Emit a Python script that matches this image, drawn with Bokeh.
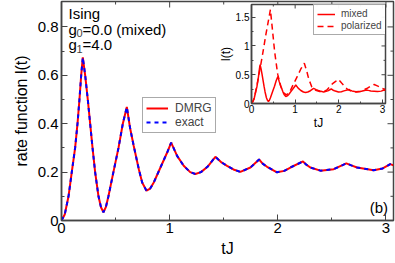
import math
from bokeh.plotting import figure
from bokeh.models import (Range1d, FixedTicker, CustomJSTickFormatter,
                          Legend, LegendItem, Label, ColumnDataSource)
from bokeh.layouts import column
from bokeh.embed import file_html
from bokeh.resources import INLINE

# ---- data ----
t_mixed = [0, 0.03, 0.065, 0.095, 0.126, 0.148, 0.166, 0.182, 0.197, 0.219, 0.243, 0.265,
           0.287, 0.311, 0.342, 0.365, 0.388, 0.41, 0.434, 0.48, 0.527, 0.567, 0.604, 0.635,
           0.668, 0.715, 0.746, 0.786, 0.82, 0.853, 0.915, 0.977, 1.014, 1.069, 1.13, 1.19,
           1.238, 1.29, 1.35, 1.423, 1.48, 1.531, 1.59, 1.654, 1.747, 1.827, 1.86, 1.901,
           1.993, 2.06, 2.117, 2.233, 2.26, 2.301, 2.394, 2.517, 2.634, 2.68, 2.733, 2.886,
           2.97, 3.04, 3.07]
l_mixed = [0, 0.025, 0.1, 0.2, 0.3, 0.4, 0.5, 0.6, 0.674, 0.6, 0.5, 0.4,
           0.3, 0.2, 0.1, 0.055, 0.034, 0.055, 0.1, 0.2, 0.3, 0.4, 0.469, 0.38,
           0.308, 0.212, 0.157, 0.123, 0.132, 0.157, 0.219, 0.281, 0.322, 0.267, 0.226, 0.2,
           0.192, 0.2, 0.222, 0.263, 0.24, 0.226, 0.211, 0.201, 0.219, 0.252, 0.235, 0.222,
           0.199, 0.205, 0.219, 0.244, 0.232, 0.219, 0.206, 0.212, 0.236, 0.228, 0.219, 0.208,
           0.215, 0.233, 0.228]

t_polarized = [0, 0.06, 0.13, 0.24, 0.33, 0.39, 0.433, 0.48, 0.53, 0.60, 0.67, 0.73, 0.8,
               0.87, 0.95, 1.05, 1.13, 1.21, 1.27, 1.31, 1.38, 1.47, 1.6, 1.72, 1.85, 1.92,
               1.99, 2.07, 2.14, 2.21, 2.3, 2.4, 2.5, 2.64, 2.73, 2.81, 2.87, 2.93, 3.0, 3.07]
l_polarized = [0, 0.08, 0.34, 0.79, 1.2, 1.45, 1.63, 1.28, 0.90, 0.51, 0.3, 0.19, 0.15,
               0.19, 0.32, 0.47, 0.6, 0.70, 0.55, 0.43, 0.29, 0.23, 0.2, 0.23, 0.34, 0.38,
               0.42, 0.35, 0.29, 0.24, 0.21, 0.2, 0.21, 0.26, 0.3, 0.33, 0.31, 0.29, 0.26, 0.24]

x_ticks = [0, 1, 2, 3]
x_minor = [0.5, 1.5, 2.5]
y_ticks_main = [0, 0.2, 0.4, 0.6, 0.8]
y_minor_main = [0.1, 0.3, 0.5, 0.7]
y_ticks_inset = [0, 0.5, 1, 1.5]
y_minor_inset = [0.25, 0.75, 1.25]

FONT = "Liberation Sans"
FRAME = "#444444"

src = ColumnDataSource(dict(t=t_mixed, l=l_mixed))
src_pol = ColumnDataSource(dict(t=t_polarized, l=l_polarized))


def style_axis(ax, ticks, minor, size, tick_len=6, minor_len=3):
    ax.ticker = FixedTicker(ticks=ticks, minor_ticks=minor)
    ax.formatter = CustomJSTickFormatter(code="return String(tick)")
    ax.major_tick_in = tick_len
    ax.major_tick_out = 0
    ax.minor_tick_in = minor_len
    ax.minor_tick_out = 0
    ax.axis_line_color = FRAME
    ax.axis_line_width = 1.5
    ax.major_tick_line_color = FRAME
    ax.minor_tick_line_color = FRAME
    ax.major_label_text_font = FONT
    ax.major_label_text_color = "black"
    ax.major_label_text_font_size = size
    ax.axis_label_text_font = FONT
    ax.axis_label_text_font_style = "normal"
    ax.axis_label_text_color = "black"


def mirror_ticks(fig, xt, xm, yt, ym, tick_len, minor_len):
    xr, yr = fig.x_range, fig.y_range
    kw = dict(line_color=FRAME, line_width=1, length_units="screen")
    fig.ray(x=xt, y=[yr.end] * len(xt), length=tick_len, angle=-math.pi / 2, **kw)
    fig.ray(x=xm, y=[yr.end] * len(xm), length=minor_len, angle=-math.pi / 2, **kw)
    fig.ray(x=[xr.end] * len(yt), y=yt, length=tick_len, angle=math.pi, **kw)
    fig.ray(x=[xr.end] * len(ym), y=ym, length=minor_len, angle=math.pi, **kw)


# ---- main figure ----
p = figure(width=395, height=263, x_range=Range1d(0, 3.07), y_range=Range1d(0, 0.905),
           output_backend="svg", toolbar_location=None,
           x_axis_label="tJ", y_axis_label="rate function l(t)",
           min_border_left=61, min_border_right=2, min_border_top=1, min_border_bottom=43)
p.grid.visible = False
p.outline_line_color = FRAME
p.outline_line_width = 1.5
p.background_fill_color = "white"

style_axis(p.xaxis[0], x_ticks, x_minor, "15px")
style_axis(p.yaxis[0], y_ticks_main, y_minor_main, "15px")
p.xaxis[0].major_label_standoff = 2
p.yaxis[0].major_label_standoff = 3
p.xaxis[0].axis_label_text_font_size = "16px"
p.yaxis[0].axis_label_text_font_size = "16px"
p.xaxis[0].axis_label_standoff = 4
p.yaxis[0].axis_label_standoff = 5
mirror_ticks(p, x_ticks, x_minor, y_ticks_main, y_minor_main, 6, 3)

r_dmrg = p.line("t", "l", source=src, line_color="#ff0000", line_width=2)
r_exact = p.line("t", "l", source=src, line_color="#0000ff", line_width=2, line_dash="4 4")

leg = Legend(items=[LegendItem(label="DMRG", renderers=[r_dmrg]),
                    LegendItem(label="exact", renderers=[r_exact])],
             location=(81, 87), orientation="vertical")
leg.label_text_font = FONT
leg.label_text_font_size = "12px"
leg.glyph_width = 22
leg.glyph_height = 12
leg.label_height = 12
leg.label_standoff = 7
leg.padding = 3
leg.spacing = 0
leg.margin = 0
leg.border_line_color = "#555555"
leg.border_line_width = 1
p.add_layout(leg)

lab_kw = dict(text_font=FONT, text_font_size="15px", text_baseline="middle", text_color="black")
p.add_layout(Label(x=0.065, y=0.855, text="Ising", **lab_kw))
p.add_layout(Label(x=0.065, y=0.79, text="g", **lab_kw))
p.add_layout(Label(x=0.065, y=0.79, x_offset=8, y_offset=-4, text="0",
                   text_font=FONT, text_font_size="11px", text_baseline="middle"))
p.add_layout(Label(x=0.065, y=0.79, x_offset=14, text="=0.0 (mixed)", **lab_kw))
p.add_layout(Label(x=0.065, y=0.727, text="g", **lab_kw))
p.add_layout(Label(x=0.065, y=0.727, x_offset=8, y_offset=-4, text="1",
                   text_font=FONT, text_font_size="11px", text_baseline="middle"))
p.add_layout(Label(x=0.065, y=0.727, x_offset=14, text="=4.0", **lab_kw))
p.add_layout(Label(x=3.02, y=0.053, text="(b)", text_align="right", **lab_kw))

# ---- inset figure ----
q = figure(width=197, height=129, x_range=Range1d(0, 3.07), y_range=Range1d(0, 1.72),
           output_backend="svg", toolbar_location=None,
           x_axis_label="tJ", y_axis_label="l(t)",
           min_border_left=38, min_border_right=1, min_border_top=1, min_border_bottom=24)
q.grid.visible = False
q.outline_line_color = FRAME
q.outline_line_width = 1.5
q.background_fill_color = "white"
q.border_fill_alpha = 0
style_axis(q.xaxis[0], x_ticks, x_minor, "10px", tick_len=4, minor_len=2)
style_axis(q.yaxis[0], y_ticks_inset, y_minor_inset, "10px", tick_len=4, minor_len=2)
q.xaxis[0].major_label_standoff = 1
q.yaxis[0].major_label_standoff = 2
for ax in (q.xaxis[0], q.yaxis[0]):
    ax.axis_label_text_font_size = "12px"
    ax.axis_label_standoff = 0
mirror_ticks(q, x_ticks, x_minor, y_ticks_inset, y_minor_inset, 4, 2)

r_mixed = q.line("t", "l", source=src, line_color="#ff0000", line_width=1.5)
r_pol = q.line("t", "l", source=src_pol, line_color="#ff0000", line_width=1.5, line_dash="6 4")

leg2 = Legend(items=[LegendItem(label="mixed", renderers=[r_mixed]),
                     LegendItem(label="polarized", renderers=[r_pol])],
              location=(62, 68), orientation="vertical")
leg2.label_text_font = FONT
leg2.label_text_font_size = "10px"
leg2.glyph_width = 18
leg2.glyph_height = 10
leg2.label_height = 10
leg2.label_standoff = 6
leg2.padding = 3
leg2.spacing = 1
leg2.margin = 0
leg2.border_line_color = "#555555"
leg2.border_line_width = 1
q.add_layout(leg2)

q.styles = {"position": "absolute", "left": "190px", "top": "3px"}

layout = column(p, q)
open("out.html", "w").write(file_html(layout, INLINE))
